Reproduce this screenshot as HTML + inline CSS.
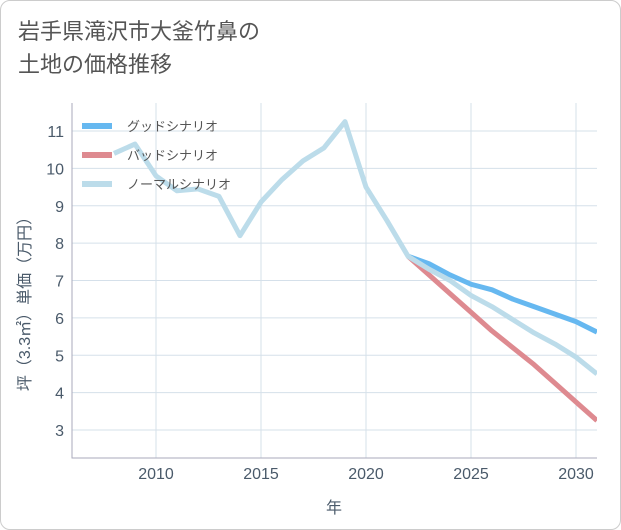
<!DOCTYPE html>
<html><head><meta charset="utf-8"><style>
body{margin:0;background:#fff;font-family:"Liberation Sans","Noto Sans CJK JP",sans-serif;}
#card{position:absolute;left:0;top:0;width:619px;height:528px;border:1px solid #ccc;border-radius:10px;background:#fff;}
#title{position:absolute;left:17px;top:14px;font-size:22px;line-height:33px;color:#555;}
</style></head><body>
<div id="card">
<div id="title">岩手県滝沢市大釜竹鼻の<br>土地の価格推移</div>
<svg id="chart" width="621" height="530" style="position:absolute;left:-1px;top:-1px"></svg>
</div>
<script>
const years=[2008,2009,2010,2011,2012,2013,2014,2015,2016,2017,2018,2019,2020,2021,2022,2023,2024,2025,2026,2027,2028,2029,2030,2031];
const normal=[10.4,10.65,9.8,9.4,9.45,9.25,8.2,9.1,9.7,10.2,10.55,11.25,9.5,8.6,7.65,7.3,7.0,6.6,6.3,5.95,5.6,5.3,4.95,4.5];
const fYears=[2022,2023,2024,2025,2026,2027,2028,2029,2030,2031];
const good=[7.65,7.45,7.15,6.9,6.75,6.5,6.3,6.1,5.9,5.62];
const bad=[7.65,7.15,6.65,6.15,6.65-1,5.2,4.75,4.25,3.75,3.25];
const xTicks=[2010,2015,2020,2025,2030];
const yTicks=[3,4,5,6,7,8,9,10,11];
const NS="http://www.w3.org/2000/svg";
const svg=document.getElementById('chart');
const L=72,R=597,T=103,B=458;
const x=v=>L+(v-2006)*(R-L)/25;
const y=v=>430-(v-3)*(430-131)/8;
function mk(t,a,p){const e=document.createElementNS(NS,t);for(const k in a)e.setAttribute(k,a[k]);(p||svg).appendChild(e);return e;}
const clip=mk('clipPath',{id:'cp'});mk('rect',{x:L,y:T,width:R-L,height:B-T},clip);
xTicks.forEach(v=>{const g=mk('line',{x1:x(v),x2:x(v),y1:T,y2:B,stroke:'#d5e0ea','stroke-width':1});


const t=mk('text',{x:x(v),y:B+21,'text-anchor':'middle','font-size':16,fill:'#4a5a6a'});t.textContent=v;

});
yTicks.forEach(v=>{const g=mk('line',{x1:L,x2:R,y1:y(v),y2:y(v),stroke:'#d5e0ea','stroke-width':1});


const t=mk('text',{x:L-8,y:y(v)+6,'text-anchor':'end','font-size':16,fill:'#4a5a6a'});t.textContent=v;

});
const ax=mk('path',{d:`M${L},${T}V${B}H${R}`,fill:'none',stroke:'#aab',"stroke-width":1});


function line(xs,vs,c,name){const d=xs.map((v,i)=>(i?'L':'M')+x(v)+','+y(vs[i])).join('');
const p=mk('path',{d:d,fill:'none',stroke:c,'stroke-width':5,'stroke-linejoin':'round','clip-path':'url(#cp)'});

}
line(fYears,bad,'#de8a90','bad-scenario-line');
line(fYears,good,'#66b8f0','good-scenario-line');
line(years,normal,'#bcdcea','normal-scenario-line');
const leg=[['グッドシナリオ','#66b8f0',126],['バッドシナリオ','#de8a90',155],['ノーマルシナリオ','#bcdcea',184]];
leg.forEach(l=>{const g=mk('g',{});


mk('line',{x1:82,x2:112,y1:l[2],y2:l[2],stroke:l[1],'stroke-width':6},g);
const t=mk('text',{x:127,y:l[2]+5,'font-size':13,fill:'#555'},g);t.textContent=l[0];});
const xt=mk('text',{x:334,y:513,'text-anchor':'middle','font-size':16,fill:'#4a5a6a'});xt.textContent='年';


const yt=mk('text',{x:0,y:0,'text-anchor':'middle','font-size':16,fill:'#4a5a6a',transform:'translate(30,300) rotate(-90)'});yt.textContent='坪（3.3㎡）単価（万円）';


</script>
</body></html>
